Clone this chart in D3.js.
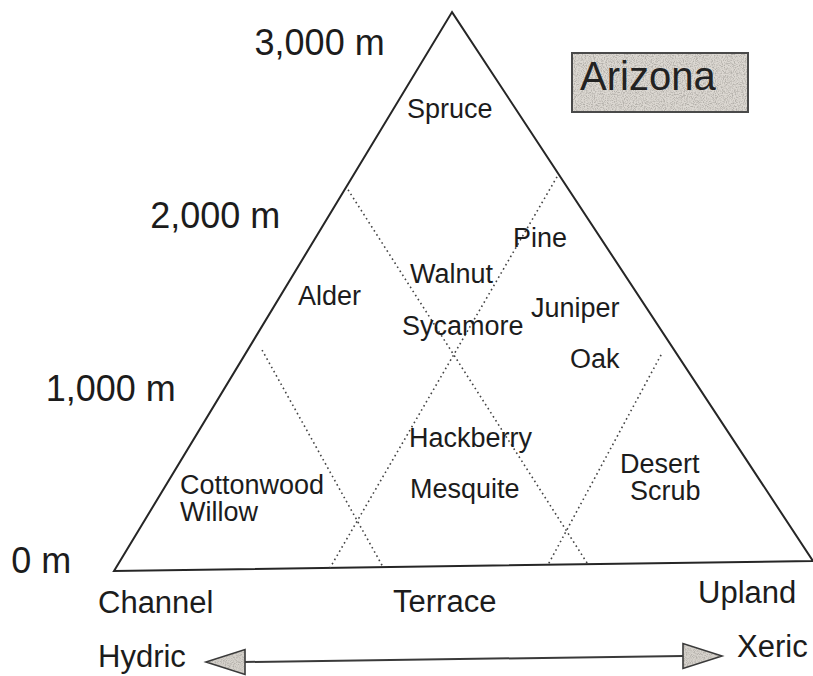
<!DOCTYPE html>
<html>
<head>
<meta charset="utf-8">
<script src="https://cdn.jsdelivr.net/npm/d3@7"></script>
<style>
  html, body { margin: 0; padding: 0; background: #fff; }
  svg { display: block; font-family: "Liberation Sans", Arial, sans-serif; }
</style>
</head>
<body>
<svg id="chart" width="813" height="676"></svg>
<script>
// ---------- DATA ----------
const elevTicks = [0, 1000, 2000, 3000];
const elevTickLabels = ["0 m", "1,000 m", "2,000 m", "3,000 m"];
const landforms = ["Channel", "Terrace", "Upland"];
const moistureEnds = ["Hydric", "Xeric"];
const region = "Arizona";
const species = ["Spruce", "Pine", "Walnut", "Alder", "Sycamore", "Juniper", "Oak",
                 "Hackberry", "Mesquite", "Cottonwood", "Willow", "Desert", "Scrub"];
// triangle vertices: [position along gradient 0..1, relative height 0..1]
const triangleU = [0, 0.495, 1];
const triangleV = [0, 1, 0];
// zone boundaries (dotted): start and end in the same (position, height) space
const zoneStartU = [0.2163, 0.3426, 0.6418, 0.787];
const zoneStartV = [0.395, 0.682, 0.700, 0.376];
const zoneEndU   = [0.385, 0.678, 0.309, 0.621];
const zoneEndV   = [0, 0, 0, 0];

// ---------- LAYOUT ----------
const origin = {x: 114, y: 571};
const baseLen = 699, triH = 554, tiltDeg = -0.82;
const speciesPos = [[407,118],[513,247],[410,283],[298,305],[402,335],[531,317],[570,368],
                    [409,447],[410,498],[180,494],[180,521],[620,473],[630,500]];
const landformPos = [[98,613],[393,612],[698,603]];
const moisturePos = [[98,667],[737,657]];

const svg = d3.select("#chart");
const defs = svg.append("defs");
const f = defs.append("filter").attr("id","speckle").attr("x",0).attr("y",0).attr("width","100%").attr("height","100%");
f.append("feTurbulence").attr("type","fractalNoise").attr("baseFrequency",0.9).attr("numOctaves",2).attr("seed",4).attr("result","n");
f.append("feColorMatrix").attr("in","n").attr("type","matrix")
  .attr("values","0 0 0 0 0.45  0 0 0 0 0.43  0 0 0 0 0.40  0 0 0 -3 1.75").attr("result","dots");
f.append("feComposite").attr("in","dots").attr("in2","SourceGraphic").attr("operator","in");

const xS = d3.scaleLinear().domain([0,1]).range([0, baseLen]);
const hS = d3.scaleLinear().domain([0,1]).range([0, -triH]);

const tri = svg.append("g")
  .attr("transform", `translate(${origin.x},${origin.y}) rotate(${tiltDeg})`);

const triPts = triangleU.map((u,i) => [xS(u), hS(triangleV[i])]);
tri.append("path")
  .attr("d", d3.line()(triPts) + "Z")
  .attr("fill","none").attr("stroke","#262626").attr("stroke-width",2).attr("stroke-linejoin","miter");

tri.selectAll("line.zone").data(zoneStartU).join("line")
  .attr("class","zone")
  .attr("x1",(d,i)=>xS(zoneStartU[i])).attr("y1",(d,i)=>hS(zoneStartV[i]))
  .attr("x2",(d,i)=>xS(zoneEndU[i])).attr("y2",(d,i)=>hS(zoneEndV[i]))
  .attr("stroke","#444").attr("stroke-width",1.6).attr("stroke-dasharray","1.6,3.2");

// pixel position of triangle left edge for elevation labels
const a = tiltDeg*Math.PI/180;
const toPx = ([x,y]) => [origin.x + x*Math.cos(a) - y*Math.sin(a), origin.y + x*Math.sin(a) + y*Math.cos(a)];
const bl = toPx(triPts[0]), apex = toPx(triPts[1]);
const leftEdgeX = y => bl[0] + (bl[1]-y)/(bl[1]-apex[1])*(apex[0]-bl[0]);

const elevY = d3.scaleLinear().domain([0,3000]).range([560.5, 42.5]);
svg.selectAll("text.elev").data(elevTicks).join("text")
  .attr("class","elev")
  .attr("x", d => leftEdgeX(elevY(d)) - 49)
  .attr("y", d => elevY(d))
  .attr("dy","0.36em")
  .attr("text-anchor","end")
  .attr("font-size",36).attr("fill","#1c1c1c")
  .text((d,i)=>elevTickLabels[i]);

svg.selectAll("text.sp").data(species).join("text")
  .attr("class","sp")
  .attr("x",(d,i)=>speciesPos[i][0]).attr("y",(d,i)=>speciesPos[i][1])
  .attr("font-size",27).attr("fill","#1c1c1c").text(d=>d);

svg.selectAll("text.lf").data(landforms).join("text")
  .attr("class","lf")
  .attr("x",(d,i)=>landformPos[i][0]).attr("y",(d,i)=>landformPos[i][1])
  .attr("font-size",31).attr("fill","#1c1c1c").text(d=>d);

svg.selectAll("text.me").data(moistureEnds).join("text")
  .attr("class","me")
  .attr("x",(d,i)=>moisturePos[i][0]).attr("y",(d,i)=>moisturePos[i][1])
  .attr("font-size",31).attr("fill","#1c1c1c").text(d=>d);

// Arizona box
const box = {x:572, y:53, w:176, h:59};
svg.append("rect").attr("x",box.x).attr("y",box.y).attr("width",box.w).attr("height",box.h)
  .attr("fill","#dcd8d2");
svg.append("rect").attr("x",box.x).attr("y",box.y).attr("width",box.w).attr("height",box.h)
  .attr("fill","#000").attr("filter","url(#speckle)");
svg.append("rect").attr("x",box.x).attr("y",box.y).attr("width",box.w).attr("height",box.h)
  .attr("fill","none").attr("stroke","#4a4a4a").attr("stroke-width",2);
svg.append("text").attr("x",580).attr("y",90).attr("font-size",40).attr("fill","#222").text(region);

// Hydric-Xeric arrow
const arrowY = d3.scaleLinear().domain([0,1]).range([662, 656]);
const arrowX = d3.scaleLinear().domain([0,1]).range([206, 722]);
const headLen = 39, headHalf = 12.5;
svg.append("line")
  .attr("x1", arrowX(0)+headLen).attr("y1", arrowY(0))
  .attr("x2", arrowX(1)-headLen).attr("y2", arrowY(1))
  .attr("stroke","#3a3a3a").attr("stroke-width",2);
const heads = [
  [[arrowX(0), arrowY(0)], [arrowX(0)+headLen, arrowY(0)-headHalf], [arrowX(0)+headLen, arrowY(0)+headHalf]],
  [[arrowX(1), arrowY(1)], [arrowX(1)-headLen, arrowY(1)-headHalf], [arrowX(1)-headLen, arrowY(1)+headHalf]]
];
heads.forEach(h => {
  const d = d3.line()(h) + "Z";
  svg.append("path").attr("d",d).attr("fill","#d6d2cc");
  svg.append("path").attr("d",d).attr("fill","#000").attr("filter","url(#speckle)");
  svg.append("path").attr("d",d).attr("fill","none").attr("stroke","#3a3a3a").attr("stroke-width",1.6).attr("stroke-linejoin","miter");
});
</script>
</body>
</html>
